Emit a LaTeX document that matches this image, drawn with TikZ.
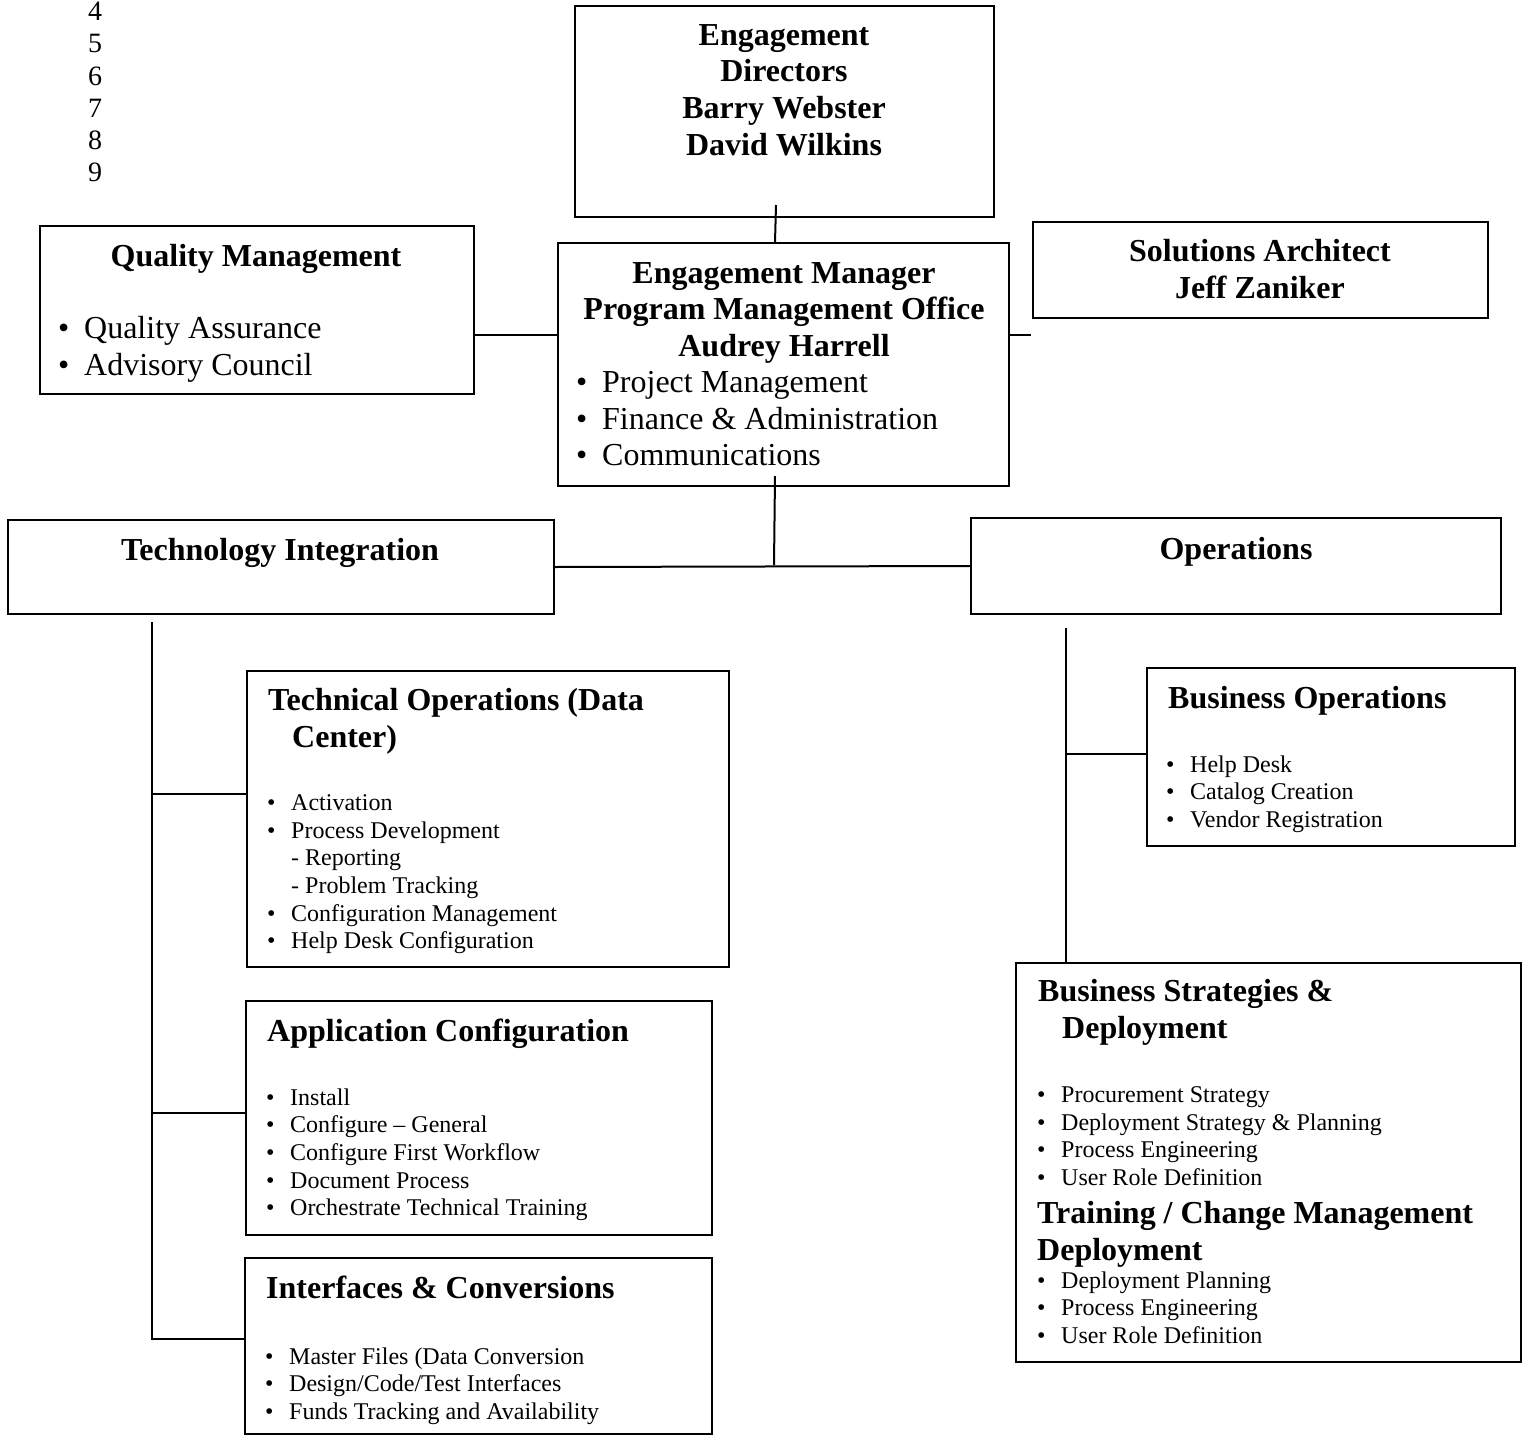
\documentclass[tikz,border=0pt]{standalone}
\usepackage{fontspec}
\setmainfont{Liberation Serif}
\usetikzlibrary{positioning}

\newcommand{\bigfont}{\fontsize{32}{36.7}\selectfont}
\newcommand{\smallfont}{\fontsize{24}{27.6}\selectfont}
\newcommand{\bigitem}{\makebox[26pt][l]{\textbullet}}
\newcommand{\smallitem}{\makebox[24pt][l]{\textbullet}}

\begin{document}
\begin{tikzpicture}
[x=1pt, y=-1pt,
    orgbox/.style={draw=black, line width=2pt, rectangle, anchor=north west, inner sep=0pt},
    headtext/.style={font=\bigfont\bfseries, inner sep=0pt, align=center, anchor=north},
    boxtitle/.style={font=\bigfont\bfseries, inner sep=0pt, align=left, anchor=north west},
    biglist/.style={font=\bigfont, inner sep=0pt, align=left, anchor=north west},
    smalllist/.style={font=\smallfont, inner sep=0pt, align=left, anchor=north west},
    link/.style={draw=black, line width=2pt}
    ]
    \useasboundingbox (0,0) rectangle (1527,1435);

    % line numbers
    \node (linenums) [font=\fontsize{28}{32.2}\selectfont, inner sep=0pt, align=center, anchor=north]
        at (95,2) {4\\5\\6\\7\\8\\9};

    % top level
    \node (tops) [orgbox, minimum width=419pt, minimum height=211pt] at (574,5) {};
    \node (topstext) [headtext] at (784,24) {Engagement\\Directors\\Barry Webster\\David Wilkins};

    \node (mgr) [orgbox, minimum width=451pt, minimum height=243pt] at (557,242) {};
    \node (mgrtitle) [headtext] at (784,262) {Engagement Manager\\Program Management Office\\Audrey Harrell};
    \node (mgrlist) [biglist] at (576,371) {\bigitem Project Management\\\bigitem Finance \& Administration\\\bigitem Communications};

    \node (qm) [orgbox, minimum width=434pt, minimum height=168pt] at (39,225) {};
    \node (qmtitle) [headtext] at (256,244) {Quality Management};
    \node (qmlist) [biglist] at (58,316) {\bigitem Quality Assurance\\\bigitem Advisory Council};

    \node (sa) [orgbox, minimum width=455pt, minimum height=96pt] at (1032,221) {};
    \node (satext) [headtext] at (1260,239) {Solutions Architect\\Jeff Zaniker};

    % second level
    \node (ti) [orgbox, minimum width=546pt, minimum height=94pt] at (7,519) {};
    \node (titext) [headtext] at (280,538) {Technology Integration};

    \node (ops) [orgbox, minimum width=530pt, minimum height=96pt] at (970,517) {};
    \node (opstext) [headtext] at (1236,537) {Operations};

    % technology integration branch
    \node (tech) [orgbox, minimum width=482pt, minimum height=296pt] at (246,670) {};
    \node (techtitle) [boxtitle] at (268,688) {Technical Operations (Data\\\hspace*{24pt}Center)};
    \node (techlist) [smalllist] at (267,794.5) {\smallitem Activation\\\smallitem Process Development\\
        \hspace*{24pt}- Reporting\\\hspace*{24pt}- Problem Tracking\\
        \smallitem Configuration Management\\\smallitem Help Desk Configuration};

    \node (app) [orgbox, minimum width=466pt, minimum height=234pt] at (245,1000) {};
    \node (apptitle) [boxtitle] at (267,1019) {Application Configuration};
    \node (applist) [smalllist] at (266,1088.5) {\smallitem Install\\\smallitem Configure -- General\\
        \smallitem Configure First Workflow\\\smallitem Document Process\\
        \smallitem Orchestrate Technical Training};

    \node (ifc) [orgbox, minimum width=467pt, minimum height=176pt] at (244,1257) {};
    \node (ifctitle) [boxtitle] at (266,1276) {Interfaces \& Conversions};
    \node (ifclist) [smalllist] at (265,1347.5) {\smallitem Master Files (Data Conversion\\
        \smallitem Design/Code/Test Interfaces\\\smallitem Funds Tracking and Availability};

    % operations branch
    \node (bop) [orgbox, minimum width=368pt, minimum height=178pt] at (1146,667) {};
    \node (boptitle) [boxtitle] at (1168,686) {Business Operations};
    \node (boplist) [smalllist] at (1166,755.5) {\smallitem Help Desk\\\smallitem Catalog Creation\\\smallitem Vendor Registration};

    \node (bsd) [orgbox, minimum width=505pt, minimum height=399pt] at (1015,962) {};
    \node (bsdtitle) [boxtitle] at (1038,979) {Business Strategies \&\\\hspace*{24pt}Deployment};
    \node (bsdlist) [smalllist] at (1037,1086.5) {\smallitem Procurement Strategy\\
        \smallitem Deployment Strategy \& Planning\\\smallitem Process Engineering\\\smallitem User Role Definition};
    \node (tcmtitle) [boxtitle] at (1037,1201) {Training / Change Management\\Deployment};
    \node (tcmlist) [smalllist] at (1037,1271.5) {\smallitem Deployment Planning\\
        \smallitem Process Engineering\\\smallitem User Role Definition};

    % connectors
    \coordinate (tijoin) at (774,565);
    \coordinate (saend) at (1031,335);
    \coordinate (tispine) at (152,622);
    \coordinate (opspine) at (1066,628);

    \draw[link] ([xshift=-8.5pt,yshift=13pt]tops.south) -- ([xshift=-8.5pt]mgr.north);
    \draw[link] ([yshift=-25pt]qm.east) -- ([yshift=-25pt]qm.east -| mgr.west);
    \draw[link] (mgr.east |- saend) -- (saend);
    \draw[link] ([xshift=-8.5pt,yshift=11pt]mgr.south) -- (tijoin);
    \draw[link] (ti.east) -- (ops.west);

    \draw[link] (tispine) |- ([yshift=7pt]ifc.west);
    \draw[link] ([yshift=25pt]tech.west) -- ([yshift=25pt]tech.west -| tispine);
    \draw[link] ([yshift=5pt]app.west) -- ([yshift=5pt]app.west -| tispine);

    \draw[link] (opspine) -- (opspine |- bsd.north);
    \draw[link] ([yshift=3pt]bop.west) -- ([yshift=3pt]bop.west -| opspine);
\end{tikzpicture}
\end{document}
